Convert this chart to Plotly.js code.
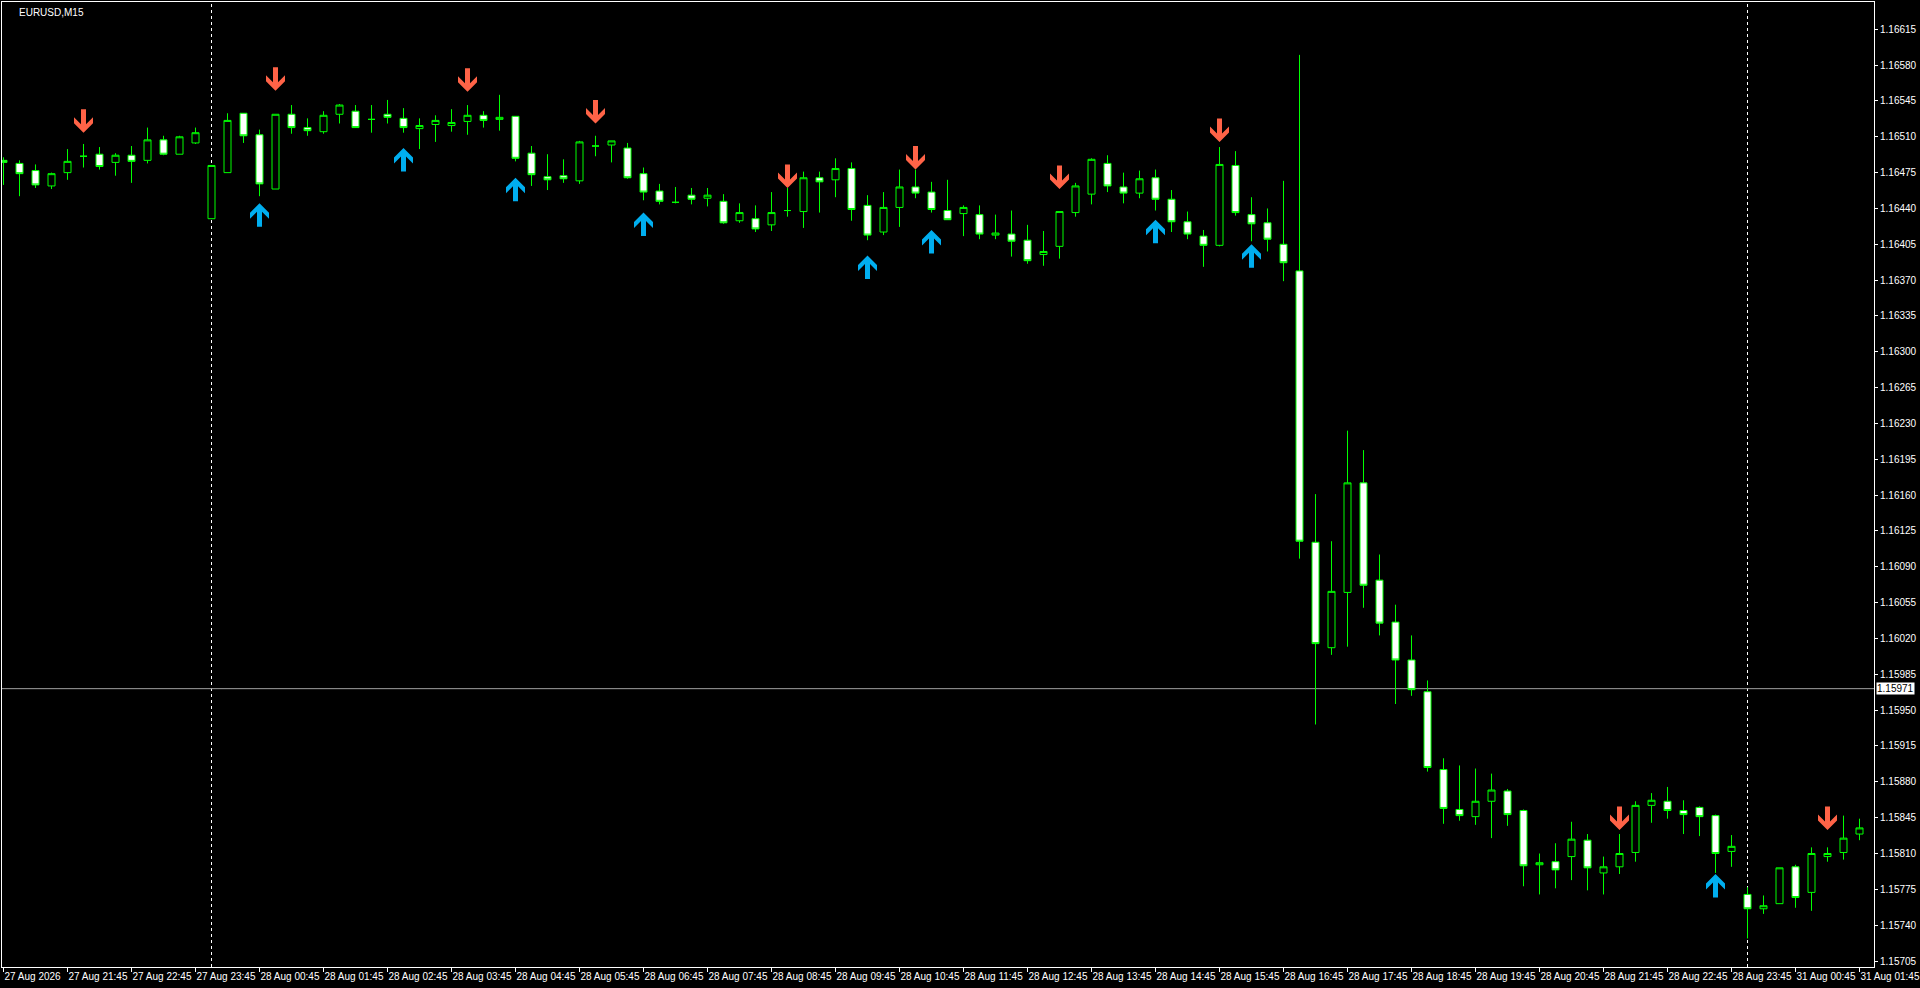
<!DOCTYPE html>
<html>
<head>
<meta charset="utf-8">
<script src="https://cdn.plot.ly/plotly-3.0.1.min.js"></script>
<style>
html,body{margin:0;padding:0;background:#000;overflow:hidden}
#chart{width:1920px;height:988px}
</style>
</head>
<body>
<div id="chart"></div>
<script>
const symbolLabel = 'EURUSD,M15';

const openPrices = [
1.16487,1.16484,1.16477,1.16462,1.16475,1.16491,1.16493,1.16485,1.16492,1.16487,
1.16507,1.16493,1.16504,1.16430,1.16475,1.16533,1.16512,1.16459,1.16532,1.16519,
1.16515,1.16532,1.16535,1.16527,1.16532,1.16528,1.16518,1.16522,1.16521,1.16525,
1.16531,1.16527,1.16530,1.16494,1.16471,1.16472,1.16467,1.16501,1.16502,1.16499,
1.16474,1.16457,1.16446,1.16453,1.16450,1.16447,1.16428,1.16430,1.16424,1.16438,
1.16437,1.16470,1.16468,1.16479,1.16443,1.16417,1.16441,1.16461,1.16456,1.16438,
1.16435,1.16434,1.16414,1.16415,1.16409,1.16395,1.16403,1.16436,1.16454,1.16484,
1.16461,1.16455,1.16470,1.16449,1.16427,1.16413,1.16404,1.16482,1.16434,1.16426,
1.16405,1.16379,1.16114,1.16011,1.16065,1.16172,1.16077,1.16036,1.15999,1.15968,
1.15892,1.15853,1.15846,1.15861,1.15871,1.15852,1.15799,1.15802,1.15807,1.15823,
1.15791,1.15797,1.15811,1.15857,1.15861,1.15852,1.15855,1.15847,1.15812,1.15770,
1.15756,1.15761,1.15797,1.15772,1.15807,1.15811,1.15829];

const highPrices = [
1.16490,1.16487,1.16483,1.16475,1.16498,1.16503,1.16500,1.16494,1.16501,1.16519,
1.16511,1.16511,1.16519,1.16482,1.16533,1.16533,1.16517,1.16532,1.16541,1.16528,
1.16535,1.16542,1.16541,1.16541,1.16546,1.16538,1.16528,1.16531,1.16537,1.16541,
1.16535,1.16551,1.16530,1.16501,1.16493,1.16488,1.16506,1.16511,1.16506,1.16504,
1.16480,1.16464,1.16461,1.16460,1.16460,1.16454,1.16445,1.16443,1.16456,1.16460,
1.16476,1.16476,1.16489,1.16485,1.16453,1.16456,1.16478,1.16478,1.16466,1.16468,
1.16443,1.16443,1.16434,1.16438,1.16424,1.16418,1.16437,1.16465,1.16489,1.16492,
1.16475,1.16477,1.16478,1.16458,1.16437,1.16419,1.16500,1.16496,1.16451,1.16440,
1.16467,1.16590,1.16161,1.16115,1.16223,1.16204,1.16102,1.16053,1.16023,1.15979,
1.15903,1.15896,1.15893,1.15888,1.15873,1.15853,1.15810,1.15820,1.15841,1.15829,
1.15807,1.15829,1.15861,1.15869,1.15875,1.15862,1.15856,1.15848,1.15828,1.15777,
1.15769,1.15796,1.15799,1.15816,1.15816,1.15847,1.15844];

const lowPrices = [
1.16463,1.16452,1.16460,1.16459,1.16468,1.16480,1.16478,1.16472,1.16465,1.16484,
1.16492,1.16493,1.16503,1.16430,1.16475,1.16504,1.16452,1.16459,1.16513,1.16511,
1.16513,1.16523,1.16519,1.16514,1.16523,1.16514,1.16498,1.16505,1.16515,1.16512,
1.16519,1.16516,1.16486,1.16462,1.16458,1.16465,1.16464,1.16491,1.16485,1.16469,
1.16448,1.16444,1.16445,1.16444,1.16442,1.16425,1.16426,1.16417,1.16418,1.16432,
1.16421,1.16436,1.16451,1.16428,1.16409,1.16414,1.16422,1.16450,1.16436,1.16429,
1.16413,1.16410,1.16410,1.16393,1.16386,1.16384,1.16391,1.16432,1.16444,1.16456,
1.16445,1.16450,1.16438,1.16417,1.16410,1.16383,1.16403,1.16433,1.16408,1.16398,
1.16369,1.16098,1.15936,1.16004,1.16012,1.16050,1.16023,1.15956,1.15964,1.15890,
1.15839,1.15842,1.15838,1.15825,1.15837,1.15778,1.15770,1.15776,1.15784,1.15774,
1.15770,1.15790,1.15802,1.15840,1.15844,1.15829,1.15827,1.15791,1.15797,1.15727,
1.15751,1.15761,1.15757,1.15754,1.15802,1.15804,1.15823];

const closePrices = [
1.16485,1.16474,1.16463,1.16474,1.16486,1.16491,1.16481,1.16492,1.16486,1.16507,
1.16493,1.16510,1.16514,1.16482,1.16526,1.16511,1.16464,1.16532,1.16519,1.16516,
1.16531,1.16541,1.16519,1.16527,1.16529,1.16519,1.16521,1.16526,1.16524,1.16531,
1.16526,1.16529,1.16489,1.16473,1.16468,1.16469,1.16505,1.16501,1.16506,1.16470,
1.16456,1.16447,1.16446,1.16449,1.16453,1.16426,1.16436,1.16420,1.16436,1.16438,
1.16470,1.16466,1.16479,1.16439,1.16414,1.16441,1.16461,1.16455,1.16439,1.16429,
1.16441,1.16415,1.16416,1.16408,1.16389,1.16398,1.16437,1.16462,1.16488,1.16462,
1.16455,1.16469,1.16449,1.16427,1.16415,1.16404,1.16483,1.16436,1.16425,1.16410,
1.16387,1.16115,1.16015,1.16066,1.16172,1.16072,1.16035,1.15999,1.15970,1.15894,
1.15854,1.15847,1.15861,1.15872,1.15848,1.15798,1.15801,1.15794,1.15824,1.15796,
1.15797,1.15810,1.15857,1.15862,1.15852,1.15848,1.15846,1.15810,1.15817,1.15756,
1.15759,1.15796,1.15767,1.15810,1.15810,1.15825,1.15835];

const tickBars = [0,4,8,12,16,20,24,28,32,36,40,44,48,52,56,60,64,68,72,76,80,84,88,92,96,100,104,108,112,116];
const tickLabels = ['27 Aug 2026','27 Aug 21:45','27 Aug 22:45','27 Aug 23:45','28 Aug 00:45','28 Aug 01:45',
  '28 Aug 02:45','28 Aug 03:45','28 Aug 04:45','28 Aug 05:45','28 Aug 06:45','28 Aug 07:45','28 Aug 08:45',
  '28 Aug 09:45','28 Aug 10:45','28 Aug 11:45','28 Aug 12:45','28 Aug 13:45','28 Aug 14:45','28 Aug 15:45',
  '28 Aug 16:45','28 Aug 17:45','28 Aug 18:45','28 Aug 19:45','28 Aug 20:45','28 Aug 21:45','28 Aug 22:45',
  '28 Aug 23:45','31 Aug 00:45','31 Aug 01:45'];

const separatorBars = [13,109];

const sellArrowBars = [5,17,29,37,49,57,66,76,101,114];
const sellArrowPrices = [1.16514,1.16555,1.16554,1.16523,1.16460,1.16478,1.16459,1.16505,1.15833,1.15833];
const buyArrowBars = [16,25,32,40,54,58,72,78,107];
const buyArrowPrices = [1.16445,1.16499,1.16470,1.16436,1.16394,1.16419,1.16429,1.16405,1.15790];

const currentPrice = 1.15971;

const barIndex = openPrices.map((_, i) => i);

const candle = {
  type: 'candlestick',
  x: barIndex,
  open: openPrices, high: highPrices, low: lowPrices, close: closePrices,
  increasing: {line: {color: '#00FF00', width: 1}, fillcolor: '#000000'},
  decreasing: {line: {color: '#00FF00', width: 1}, fillcolor: '#FFFFFF'},
  whiskerwidth: 0,
  hoverinfo: 'skip',
  showlegend: false
};

const downPath = 'M0,0 L9.5,9.5 L9.5,15.5 L2.5,8.5 L2.5,23.5 L-2.5,23.5 L-2.5,8.5 L-9.5,15.5 L-9.5,9.5 Z';
const upPath = 'M0,0 L9.5,-9.5 L9.5,-15.5 L2.5,-8.5 L2.5,-23.5 L-2.5,-23.5 L-2.5,-8.5 L-9.5,-15.5 L-9.5,-9.5 Z';

const shapes = [];
separatorBars.forEach(b => shapes.push({
  type: 'line', xref: 'x', yref: 'paper', x0: b, x1: b, y0: 0, y1: 1,
  line: {color: '#FFFFFF', width: 1, dash: '3px,3px'}, layer: 'below'
}));
shapes.push({
  type: 'line', xref: 'paper', yref: 'y', x0: 0, x1: 1, y0: currentPrice, y1: currentPrice,
  line: {color: '#A0A0A0', width: 1}, layer: 'below'
});
sellArrowBars.forEach((b, i) => shapes.push({
  type: 'path', xref: 'x', yref: 'y', xsizemode: 'pixel', ysizemode: 'pixel',
  xanchor: b, yanchor: sellArrowPrices[i], path: downPath,
  fillcolor: '#FF6347', line: {width: 0}, layer: 'above'
}));
buyArrowBars.forEach((b, i) => shapes.push({
  type: 'path', xref: 'x', yref: 'y', xsizemode: 'pixel', ysizemode: 'pixel',
  xanchor: b, yanchor: buyArrowPrices[i], path: upPath,
  fillcolor: '#00AEEF', line: {width: 0}, layer: 'above'
}));

const axisFont = {family: 'Liberation Sans, Arial, sans-serif', size: 10, color: '#FFFFFF'};

const layout = {
  width: 1920, height: 988,
  paper_bgcolor: '#000000', plot_bgcolor: '#000000',
  margin: {l: 2, r: 46, t: 2, b: 21},
  showlegend: false,
  boxgap: 0.375,
  xaxis: {
    type: 'linear',
    range: [-0.09375, 116.90625],
    tickmode: 'array', tickvals: tickBars, ticktext: tickLabels,
    ticks: 'outside', ticklen: 4, tickcolor: '#FFFFFF', tickwidth: 1,
    ticklabelposition: 'outside right', tickangle: 0,
    tickfont: axisFont,
    showgrid: false, zeroline: false,
    showline: true, linecolor: '#FFFFFF', linewidth: 1, mirror: true,
    rangeslider: {visible: false}, fixedrange: true
  },
  yaxis: {
    side: 'right',
    range: [1.1569914, 1.1664166],
    tickmode: 'linear', tick0: 1.15705, dtick: 0.00035, tickformat: '.5f',
    ticks: 'outside', ticklen: 3, tickcolor: '#FFFFFF', tickwidth: 1,
    tickfont: axisFont,
    showgrid: false, zeroline: false,
    showline: true, linecolor: '#FFFFFF', linewidth: 1, mirror: true,
    fixedrange: true
  },
  shapes: shapes,
  annotations: [
    {xref: 'paper', yref: 'paper', x: 0, y: 1, xanchor: 'left', yanchor: 'top',
     xshift: 15, yshift: -3, text: symbolLabel, showarrow: false,
     font: {family: 'Liberation Sans, Arial, sans-serif', size: 10, color: '#FFFFFF'}},
    {xref: 'paper', yref: 'y', x: 1, y: currentPrice, xanchor: 'left', yanchor: 'middle',
     xshift: 2, text: currentPrice.toFixed(5), showarrow: false, bgcolor: '#FFFFFF',
     borderpad: 0, font: {family: 'Liberation Sans, Arial, sans-serif', size: 10, color: '#000000'}}
  ]
};

Plotly.newPlot('chart', [candle], layout, {displayModeBar: false, staticPlot: true});
</script>
</body>
</html>
